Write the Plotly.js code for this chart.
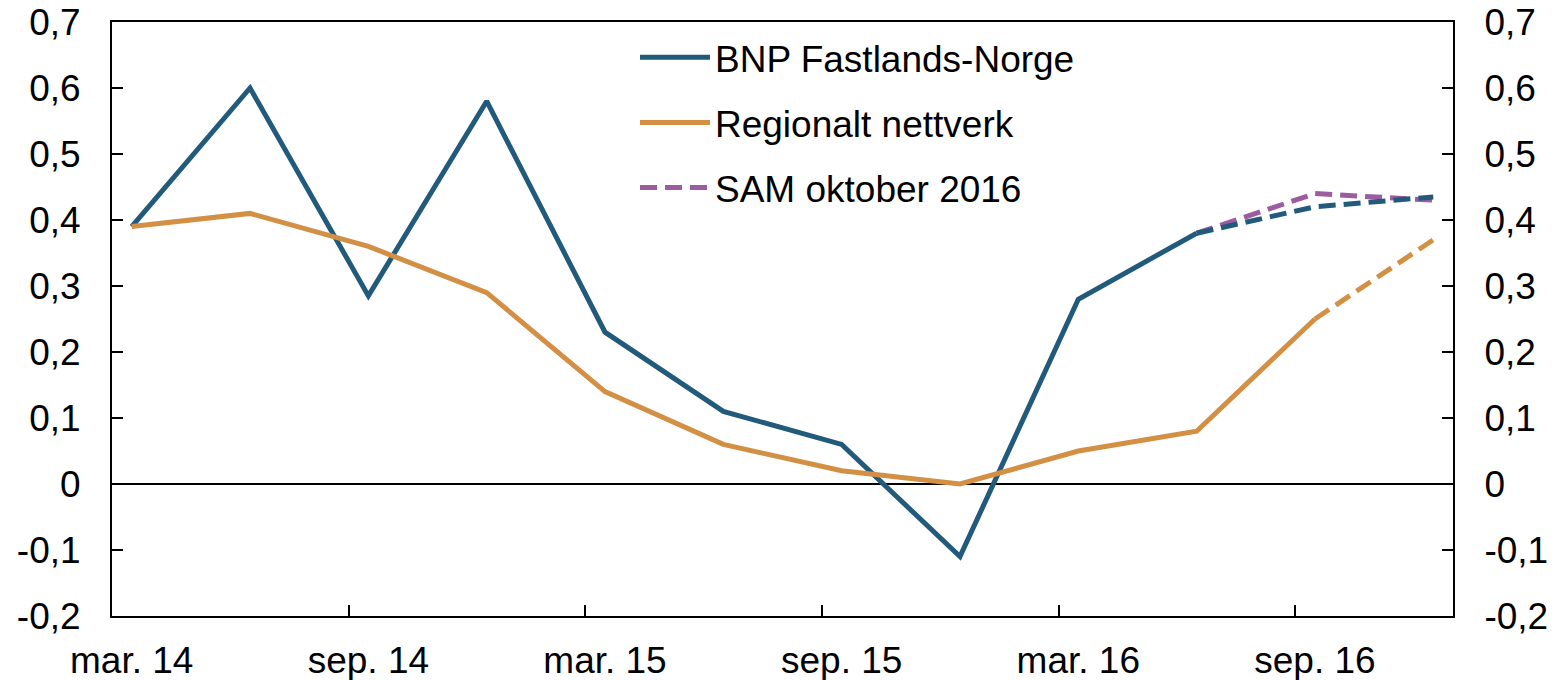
<!DOCTYPE html>
<html><head><meta charset="utf-8">
<script src="https://cdn.plot.ly/plotly-3.0.1.min.js"></script>
<style>html,body{margin:0;padding:0;background:#fff}#chart{width:1555px;height:680px}</style>
</head><body><div id="chart"></div>
<script>
// Quarterly observations (month index counted from mar. 14)
const quarters = ['mar. 14','jun. 14','sep. 14','des. 14','mar. 15','jun. 15','sep. 15','des. 15','mar. 16','jun. 16','sep. 16','des. 16'];
const bnpFastland = [0.39, 0.60, 0.285, 0.58, 0.23, 0.11, 0.06, -0.11, 0.28, 0.38, null, null];
const bnpProjection = [null, null, null, null, null, null, null, null, null, 0.38, 0.42, 0.435];
const regionalt = [0.39, 0.41, 0.36, 0.29, 0.14, 0.06, 0.02, 0.0, 0.05, 0.08, 0.25, null];
const regionaltProjection = [null, null, null, null, null, null, null, null, null, null, 0.25, 0.37];
const samOkt2016 = [null, null, null, null, null, null, null, null, null, 0.38, 0.44, 0.43];
const xTickLabels = ['mar. 14','sep. 14','mar. 15','sep. 15','mar. 16','sep. 16'];
const yTickValues = [-0.2, -0.1, 0, 0.1, 0.2, 0.3, 0.4, 0.5, 0.6, 0.7];
const yTickLabels = ['-0,2', '-0,1', '0', '0,1', '0,2', '0,3', '0,4', '0,5', '0,6', '0,7'];

const monthsPerQuarter = 3;
const totalMonths = 34;
const xs = quarters.map((q, i) => i * monthsPerQuarter);
const xTickVals = xTickLabels.map((t, i) => i * 6);
const xBoundaryTicks = xTickLabels.slice(1).map((t, i) => (i + 1) * 6 - 0.5);

const BLUE = '#215a7a', ORANGE = '#d38f44', PURPLE = '#9b5ca0';
const W = 5;
const DASH = '17px,8px';
const FONT = {family: '"Liberation Sans", Arial, sans-serif', size: 37, color: '#000'};

const traces = [
  {x: xs, y: bnpFastland, name: 'BNP Fastlands-Norge', mode: 'lines', line: {color: BLUE, width: W}, legendgroup: 'a'},
  {x: xs, y: regionalt, name: 'Regionalt nettverk', mode: 'lines', line: {color: ORANGE, width: W}, legendgroup: 'b'},
  {x: xs, y: samOkt2016, name: 'SAM oktober 2016', mode: 'lines', line: {color: PURPLE, width: W, dash: DASH}, legendgroup: 'c'},
  {x: xs, y: regionaltProjection, name: 'Regionalt nettverk (anslag)', mode: 'lines', line: {color: ORANGE, width: W, dash: DASH}, showlegend: false, legendgroup: 'b'},
  {x: xs, y: bnpProjection, name: 'BNP Fastlands-Norge (anslag)', mode: 'lines', line: {color: BLUE, width: W, dash: DASH}, showlegend: false, legendgroup: 'a', xaxis: 'x2', yaxis: 'y2'}
];

const xRange = [-0.5, totalMonths - 0.5];
const yRange = [-0.2, 0.7];

const layout = {
  width: 1555, height: 680,
  margin: {l: 112, r: 102, t: 22, b: 64},
  paper_bgcolor: '#fff', plot_bgcolor: '#fff',
  font: FONT,
  showlegend: true,
  legend: {x: 0.39, y: 0.992, xanchor: 'left', yanchor: 'top', bgcolor: 'rgba(0,0,0,0)', font: FONT, tracegroupgap: 14, traceorder: 'grouped', itemwidth: 70},
  xaxis: {range: xRange, tickmode: 'array', tickvals: xTickVals, ticktext: xTickLabels, ticks: '', showgrid: false, zeroline: false,
          showline: true, mirror: true, linecolor: '#000', linewidth: 2, ticklabelstandoff: 11, tickfont: FONT},
  xaxis2: {range: xRange, overlaying: 'x', anchor: 'y2', side: 'bottom', tickmode: 'array', tickvals: xBoundaryTicks, ticks: 'inside', ticklen: 11, tickwidth: 2, tickcolor: '#000',
           showticklabels: false, showgrid: false, zeroline: false, showline: false},
  yaxis: {range: yRange, tickmode: 'array', tickvals: yTickValues, ticktext: yTickLabels, ticks: 'inside', ticklen: 11, tickwidth: 2, tickcolor: '#000',
          showgrid: false, zeroline: true, zerolinecolor: '#000', zerolinewidth: 1.5, showline: true, linecolor: '#000', linewidth: 2, ticklabelstandoff: 22, tickfont: FONT},
  yaxis2: {range: yRange, overlaying: 'y', side: 'right', anchor: 'x2', tickmode: 'array', tickvals: yTickValues, ticktext: yTickLabels, ticks: 'inside', ticklen: 11, tickwidth: 2, tickcolor: '#000',
           showgrid: false, zeroline: false, showline: true, linecolor: '#000', linewidth: 2, ticklabelstandoff: 22, tickfont: FONT}
};

Plotly.newPlot('chart', traces, layout, {staticPlot: true, displayModeBar: false});
</script>
</body></html>
